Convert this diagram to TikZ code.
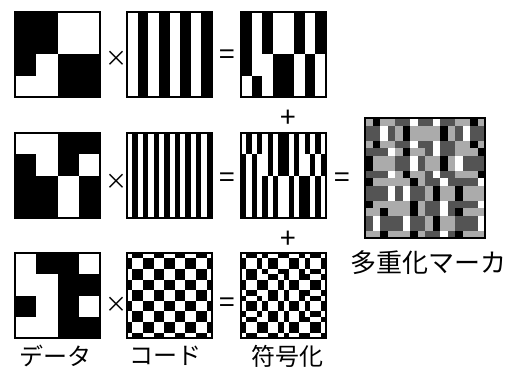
\documentclass[tikz,border=0pt]{standalone}
\usepackage{fontspec}
\setmainfont{Noto Sans CJK JP}
\usetikzlibrary{positioning}

\definecolor{inkblack}{RGB}{0,0,0}

% data blocks, row by row (-1 = black, 1 = white)
\def\bitsA{{-1,-1,1,1,-1,-1,1,1,-1,1,-1,-1,1,1,-1,-1}}
\def\bitsB{{1,1,-1,-1,-1,1,-1,1,-1,-1,1,-1,-1,-1,1,-1}}
\def\bitsC{{1,-1,-1,1,1,1,-1,-1,-1,1,-1,1,1,1,-1,-1}}

% everything lives on a 16x16 grid
\pgfmathdeclarefunction{dataA}{2}{\pgfmathparse{\bitsA[int(int(#1/4)*4+int(#2/4))]}}
\pgfmathdeclarefunction{dataB}{2}{\pgfmathparse{\bitsB[int(int(#1/4)*4+int(#2/4))]}}
\pgfmathdeclarefunction{dataC}{2}{\pgfmathparse{\bitsC[int(int(#1/4)*4+int(#2/4))]}}
\pgfmathdeclarefunction{codeA}{2}{\pgfmathparse{1-2*mod(int(#2/2),2)}}
\pgfmathdeclarefunction{codeB}{2}{\pgfmathparse{1-2*mod(int(#2),2)}}
\pgfmathdeclarefunction{codeC}{2}{\pgfmathparse{1-2*mod(int((#1+1)/2)+int((#2+1)/2),2)}}

% #1,#2 top left corner, #3 side, #4 value in [-1,1] of cell (\py,\px)
\newcommand{\pixelgrid}[4]{%
  \foreach \py in {0,...,15}
    \foreach \px in {0,...,15}{
      \pgfmathtruncatemacro\lev{round(50-50*(#4))}
      \fill[inkblack!\lev] ({#1+\px*#3/16},{#2+\py*#3/16}) rectangle ++({#3/16+0.4},{#3/16+0.4});
    }
  \draw[boxframe] (#1,#2) rectangle ++(#3,#3);
}

\begin{document}
\begin{tikzpicture}[x=1pt, y=-1pt,
    boxframe/.style={line width=1.5pt, inkblack},
    sym/.style={font=\fontsize{28}{28}\selectfont, inner sep=0pt},
    tagtext/.style={font=\fontsize{24}{24}\selectfont, inner sep=0pt}]
    \useasboundingbox (0,0) rectangle (508,377);

    % data
    \pixelgrid{15}{12}{85}{dataA(\py,\px)}
    \pixelgrid{15}{133}{85}{dataB(\py,\px)}
    \pixelgrid{15}{253}{85}{dataC(\py,\px)}

    % codes
    \pixelgrid{127}{12}{85}{codeA(\py,\px)}
    \pixelgrid{127}{133}{85}{codeB(\py,\px)}
    \pixelgrid{127}{253}{85}{codeC(\py,\px)}

    % encoded
    \pixelgrid{241}{12}{85}{dataA(\py,\px)*codeA(\py,\px)}
    \pixelgrid{241}{133}{85}{dataB(\py,\px)*codeB(\py,\px)}
    \pixelgrid{241}{253}{85}{dataC(\py,\px)*codeC(\py,\px)}

    % multiplexed marker
    \pixelgrid{365}{118}{120}{(dataA(\py,\px)*codeA(\py,\px)+dataB(\py,\px)*codeB(\py,\px)+dataC(\py,\px)*codeC(\py,\px))/3}

    \node[sym, font=\fontsize{22}{22}\selectfont] (timesA) at (116,59) {×};
    \node[sym, font=\fontsize{22}{22}\selectfont] (timesB) at (116,182) {×};
    \node[sym, font=\fontsize{22}{22}\selectfont] (timesC) at (116,305) {×};
    \node[sym] (eqA) at (227.5,57) {=};
    \node[sym] (eqB) at (227.5,180) {=};
    \node[sym] (eqC) at (227.5,305) {=};
    \node[sym] (plusA) at (288,119) {+};
    \node[sym] (plusB) at (288,240) {+};
    \node[sym] (eqM) at (342,180) {=};

    \node[tagtext] (dataname) at (55,356) {データ};
    \node[tagtext] (codename) at (165,356) {コード};
    \node[tagtext] (encname) at (287,356) {符号化};
    \node[tagtext, font=\fontsize{26}{26}\selectfont] (markername) at (428,263) {多重化マーカ};
\end{tikzpicture}
\end{document}
